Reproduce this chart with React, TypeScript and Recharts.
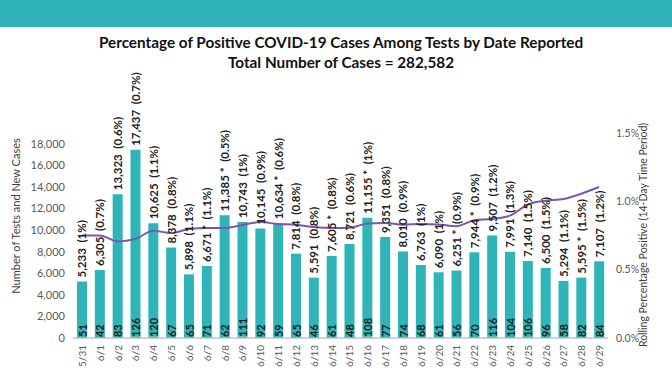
import { ComposedChart, Bar, Line, XAxis, YAxis, LabelList } from 'recharts'

// tests reported per day, new cases, daily positivity label, rolling 14-day positivity
const dates = ['5/31', '6/1', '6/2', '6/3', '6/4', '6/5', '6/6', '6/7', '6/8', '6/9', '6/10', '6/11', '6/12', '6/13', '6/14', '6/15', '6/16', '6/17', '6/18', '6/19', '6/20', '6/21', '6/22', '6/23', '6/24', '6/25', '6/26', '6/27', '6/28', '6/29']
const tests = [5233, 6305, 13323, 17437, 10625, 8378, 5898, 6671, 11385, 10743, 10145, 10634, 7814, 5591, 7605, 8721, 11155, 9351, 8010, 6763, 6090, 6251, 7944, 9507, 7991, 7140, 6500, 5294, 5595, 7107]
const cases = [51, 42, 83, 126, 120, 67, 65, 71, 62, 111, 92, 59, 65, 46, 61, 48, 108, 77, 74, 68, 61, 56, 70, 116, 104, 106, 96, 58, 82, 84]
const dailyPct = ['1', '0.7', '0.6', '0.7', '1.1', '0.8', '1.1', '1.1', '0.5', '1', '0.9', '0.6', '0.8', '0.8', '0.8', '0.6', '1', '0.8', '0.9', '1', '1', '0.9', '0.9', '1.2', '1.3', '1.5', '1.5', '1.1', '1.5', '1.2']
const starred = ['6/7', '6/8', '6/11', '6/14', '6/16', '6/21', '6/22', '6/28']
const rolling = [0.75, 0.75, 0.707, 0.725, 0.785, 0.768, 0.798, 0.805, 0.805, 0.827, 0.848, 0.834, 0.829, 0.812, 0.805, 0.807, 0.837, 0.842, 0.829, 0.834, 0.83, 0.818, 0.861, 0.871, 0.895, 0.976, 1.005, 1.017, 1.056, 1.105]

const leftTicks = [0, 2000, 4000, 6000, 8000, 10000, 12000, 14000, 16000, 18000]
const rightTicks = [0, 0.005, 0.01, 0.015]

const data = dates.map((d, i) => ({
  date: d,
  cases: cases[i],
  rest: tests[i] - cases[i],
  rolling: rolling[i] / 100,
}))

const TEAL = '#2fb4b8'
const FONT = 'Lato, "Open Sans", sans-serif'

const XTick = (props: any) => {
  const { x, y, payload } = props
  const ty = y - 1
  return (
    <text x={x} y={ty} transform={`rotate(-90, ${x}, ${ty})`} textAnchor="end" dominantBaseline="central" fontSize={10} fill="#595959" fontFamily={FONT}>
      {payload.value}
    </text>
  )
}

const TopLabel = (props: any) => {
  const { x, y, width, index } = props
  const cx = x + width / 2
  const ty = y - 4
  const star = starred.includes(dates[index]) ? ' *' : ''
  const txt = `${tests[index].toLocaleString('en-US')}${star}\u00a0 (${dailyPct[index]}%)`
  return (
    <text x={cx} y={ty} transform={`rotate(-90, ${cx}, ${ty})`} textAnchor="start" dominantBaseline="central" fontSize={11.5} fontWeight={700} fill="#222" fontFamily={FONT}>
      {txt}
    </text>
  )
}

const CaseLabel = (props: any) => {
  const { x, width, index } = props
  const cx = x + width / 2
  const ty = 337
  return (
    <text x={cx} y={ty} transform={`rotate(-90, ${cx}, ${ty})`} textAnchor="start" dominantBaseline="central" fontSize={11} fontWeight={700} fill="#1a1a1a" fontFamily={FONT}>
      {cases[index]}
    </text>
  )
}

export default function App() {
  return (
    <div style={{ position: 'absolute', left: 0, top: 0, width: 672, height: 372, background: '#fff', overflow: 'hidden', fontFamily: FONT }}>
      <div style={{ position: 'absolute', left: 0, top: 0, width: 672, height: 27, background: '#2fb3ba' }} />
      <div style={{ position: 'absolute', left: 0, top: 32, width: 682, textAlign: 'center', fontSize: 15.3, fontWeight: 700, color: '#111', lineHeight: '20px' }}>
        Percentage of Positive COVID-19 Cases Among Tests by Date Reported
        <br />
        Total Number of Cases = 282,582
      </div>
      <div style={{ position: 'absolute', left: 16, top: 216, transform: 'translate(-50%, -50%) rotate(-90deg)', whiteSpace: 'nowrap', fontSize: 11, color: '#404040', lineHeight: '12px' }}>
        Number of Tests and New Cases
      </div>
      <div style={{ position: 'absolute', left: 643, top: 235, transform: 'translate(-50%, -50%) rotate(-90deg)', whiteSpace: 'nowrap', fontSize: 10.5, color: '#404040', lineHeight: '12px' }}>
        Rolling Percentage Positive (14-Day Time Period)
      </div>
      <div style={{ position: 'absolute', left: 0, top: 0 }}>
        <ComposedChart width={672} height={372} data={data} margin={{ top: 133, right: 0, left: 0, bottom: 0 }} barSize={10}>
          <XAxis dataKey="date" interval={0} height={34} tickLine={false} axisLine={{ stroke: '#a6a6a6' }} tick={<XTick />} />
          <YAxis yAxisId="left" width={73} domain={[0, 19000]} ticks={leftTicks} allowDataOverflow axisLine={false} tickLine={false}
            tick={{ fontSize: 11, fill: '#595959', fontFamily: FONT }} tickFormatter={(v: number) => v.toLocaleString('en-US')} />
          <YAxis yAxisId="right" orientation="right" width={64} domain={[0, 0.015]} ticks={rightTicks} allowDataOverflow axisLine={false} tickLine={false}
            tick={{ fontSize: 10.5, fill: '#595959', fontFamily: FONT }} tickFormatter={(v: number) => (v * 100).toFixed(1) + '%'} />
          <Bar yAxisId="left" dataKey="cases" stackId="a" fill="#d9a521" isAnimationActive={false}>
            <LabelList dataKey="cases" content={<CaseLabel />} />
          </Bar>
          <Bar yAxisId="left" dataKey="rest" stackId="a" fill={TEAL} isAnimationActive={false}>
            <LabelList dataKey="rest" content={<TopLabel />} />
          </Bar>
          <Line yAxisId="right" dataKey="rolling" type="monotone" stroke="#7c56aa" strokeWidth={2} dot={false} isAnimationActive={false} />
        </ComposedChart>
      </div>
    </div>
  )
}
